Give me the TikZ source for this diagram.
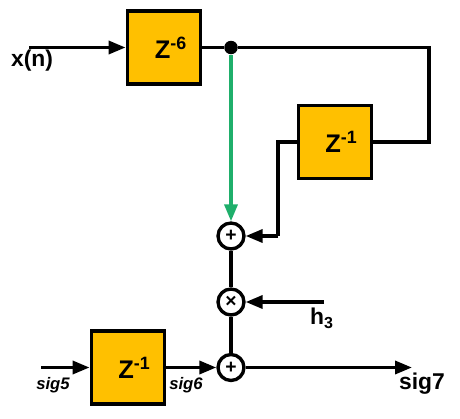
\documentclass[tikz,border=0pt]{standalone}
\usepackage{fontspec}
\setmainfont{Liberation Sans}
\usetikzlibrary{arrows.meta, positioning, calc}
\definecolor{mAmber}{HTML}{FFC000}
\definecolor{mGreen}{HTML}{1FAF6B}

\begin{document}
\begin{tikzpicture}[
    delay/.style={draw=black, line width=2.2pt, fill=mAmber, minimum width=1.46cm, minimum height=1.46cm,
                inner sep=0pt, font=\fontsize{14.5}{15}\selectfont\bfseries},
    op/.style={draw=black, line width=1.9pt, circle, fill=white, minimum size=0.52cm, inner sep=0pt,
                font=\fontsize{11}{11}\selectfont\bfseries},
    wire/.style={line width=2pt},
    flow/.style={wire, -{Triangle[length=0.34cm, width=0.26cm]}},
    sig/.style={font=\fontsize{9.5}{10}\selectfont\bfseries\itshape, inner sep=0pt},
    lab/.style={font=\fontsize{13}{13}\selectfont\bfseries, inner sep=0pt},
  ]
    \useasboundingbox (0, 0) rectangle (9.2, 8.36);

    % delay blocks
    \node[delay] (d6) at (3.28, 7.41) {\hspace{0.28cm}Z\textsuperscript{-6}};
    \node[delay] (d1) at (6.70, 5.52) {\hspace{0.26cm}Z\textsuperscript{-1}};
    \node[delay] (d0) at (2.56, 1.01) {\hspace{0.26cm}Z\textsuperscript{-1}};

    % adders and multiplier
    \node[op] (s1) at (4.62, 3.64) {+};
    \node[op] (m1) at (4.62, 2.32) {×};
    \node[op] (s2) at (4.62, 1.01) {+};

    % branch point
    \node[circle, fill=black, minimum size=0.27cm, inner sep=0pt] (tap) at (4.62, 7.41) {};

    % free ends and corners
    \coordinate (xin) at (0.58, 7.41);
    \coordinate (hin) at (6.48, 2.32);
    \coordinate (sin) at (0.82, 1.01);
    \coordinate (sout) at (8.24, 1.01);
    \coordinate (ne) at (8.58, 7.41);
    \coordinate (ee) at (8.58, 5.52);
    \coordinate (ww) at (5.56, 5.52);
    \coordinate (ss) at (5.56, 3.64);

    % edges
    \draw[flow] (xin) -- (d6);
    \draw[wire] (d6) -- (tap);
    \draw[wire] (tap) -- (ne) -- (ee) -- (d1);
    \draw[wire, mGreen, -{Triangle[length=0.34cm, width=0.26cm]}] (tap) -- (s1);
    \draw[wire] (d1) -- (ww) -- (ss);
    \draw[flow] (ss) -- (s1);
    \draw[wire] (s1) -- (m1);
    \draw[wire] (m1) -- (s2);
    \draw[flow] (hin) -- (m1);
    \draw[flow] (sin) -- (d0);
    \draw[flow] (d0) -- (s2);
    \draw[flow] (s2) -- (sout);

    % labels
    \node[lab] (xlab) at (0.64, 7.14) {x(n)};
    \node[lab] (hlab) at (6.44, 2.0) {h\textsubscript{3}};
    \node[sig] (sig5) at (1.06, 0.66) {sig5};
    \node[sig] (sig6) at (3.72, 0.66) {sig6};
    \node[lab] (sig7) at (8.44, 0.68) {sig7};
  \end{tikzpicture}
\end{document}
